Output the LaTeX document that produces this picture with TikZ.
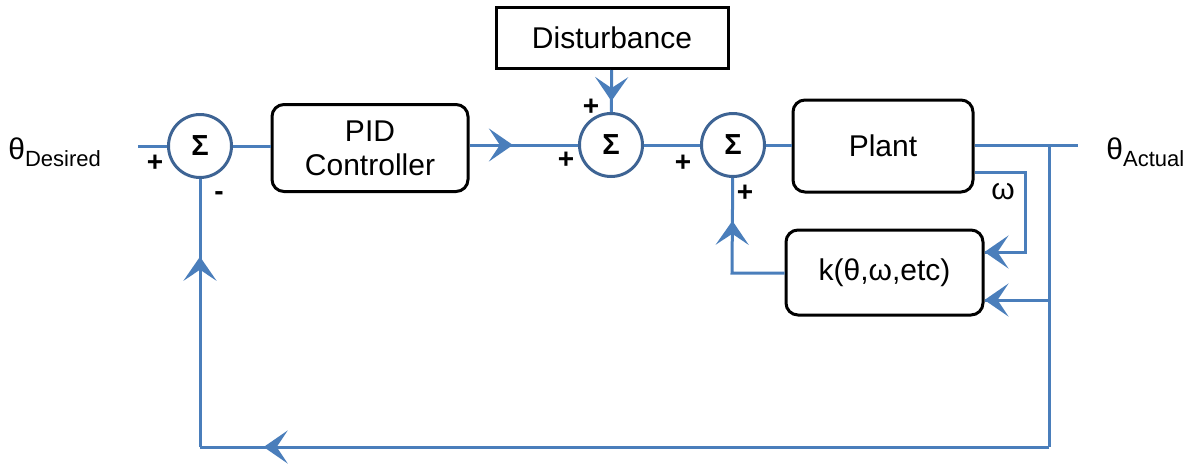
\documentclass[tikz,border=0pt]{standalone}
\usepackage{fontspec}
\setmainfont{Liberation Sans}
\usetikzlibrary{arrows.meta,decorations.markings}
\definecolor{sigblue}{RGB}{74,126,187}
\definecolor{sumblue}{RGB}{62,100,148}

\begin{document}
\begin{tikzpicture}[x=0.5pt,y=-0.5pt,
	sig/.style={draw=sigblue,line width=1.5pt},
	midarrow/.style={postaction={decorate},decoration={markings,
		mark=at position #1 with {\arrow{Stealth[length=12pt,width=16.5pt,inset=5.5pt,sigblue]}}}},
	sumnode/.style={circle,draw=sumblue,line width=1.5pt,minimum size=31.5pt,inner sep=0pt,
		font=\fontsize{14.5}{16}\selectfont\bfseries},
	block/.style={draw,line width=1.5pt,rounded corners=6pt,align=center,
		font=\fontsize{15}{17.5}\selectfont},
	sgn/.style={font=\fontsize{14}{16}\selectfont\bfseries},
	lbl/.style={font=\fontsize{15}{17}\selectfont}]
	\useasboundingbox (0,0) rectangle (1191,473);

	% summing junctions and blocks
	\node[sumnode] (s1) at (200,146) {Σ};
	\node[block,minimum width=98pt,minimum height=43.5pt] (pid) at (370,148) {PID\\[-0.5pt]Controller};
	\node[sumnode] (s2) at (611,145) {Σ};
	\node[block,rounded corners=0pt,minimum width=116pt,minimum height=30.5pt] (dist) at (612,38) {Disturbance};
	\node[sumnode] (s3) at (733,145) {Σ};
	\node[block,minimum width=90pt,minimum height=46pt] (plant) at (883,146) {Plant};
	\node[block,minimum width=98.5pt,minimum height=42.5pt] (k) at (884.5,272.5) {k(θ,ω,etc)};

	% input and output labels
	\node[lbl,anchor=west,inner sep=0pt] (tin) at (8,152) {θ\raisebox{-3.5pt}{\fontsize{11}{13}\selectfont Desired}};
	\node[lbl,anchor=west,inner sep=0pt] (tout) at (1106,152) {θ\raisebox{-3.5pt}{\fontsize{11}{13}\selectfont Actual}};
	\node[lbl] (om) at (1003,192) {ω};

	% signs at the junctions
	\node[sgn] (p1) at (155,163) {+};
	\node[sgn] (m1) at (219,196) {-};
	\node[sgn] (p2) at (566,160) {+};
	\node[sgn] (p3) at (591,107) {+};
	\node[sgn] (p4) at (683,163) {+};
	\node[sgn] (p5) at (745,193) {+};

	\coordinate (in) at (138,146);
	\coordinate (out) at (1078,145);
	\coordinate (br) at (1049,145);
	\coordinate (br2) at (1049,300);
	\coordinate (fb) at (1049,447);
	\coordinate (w1) at (1025,172);
	\coordinate (w2) at (1025,252);
	\coordinate (kl) at (732,273);

	% forward path
	\draw[sig] (in) -- (s1);
	\draw[sig] (s1) -- (pid.west |- s1);
	\draw[sig,midarrow=0.4] (pid.east |- s2) -- (s2);
	\draw[sig,midarrow=0.74] (dist) -- (s2);
	\draw[sig] (s2) -- (s3);
	\draw[sig] (s3) -- (plant.west |- s3);
	\draw[sig] (plant.east |- out) -- (out);

	% inner loop through k
	\draw[sig,midarrow=1] (plant.east |- w1) -- (w1) -- (w2) -- (k.east |- w2);
	\draw[sig,midarrow=1] (br) -- (br2) -- (k.east |- br2);
	\draw[sig,midarrow=0.71] (k.west |- kl) -- (kl) -- (s3);

	% outer feedback
	\draw[sig] (br2) -- (fb);
	\draw[sig,midarrow=0.925] (fb) -- (s1 |- fb);
	\draw[sig,midarrow=0.71] (s1 |- fb) -- (s1);
\end{tikzpicture}
\end{document}
